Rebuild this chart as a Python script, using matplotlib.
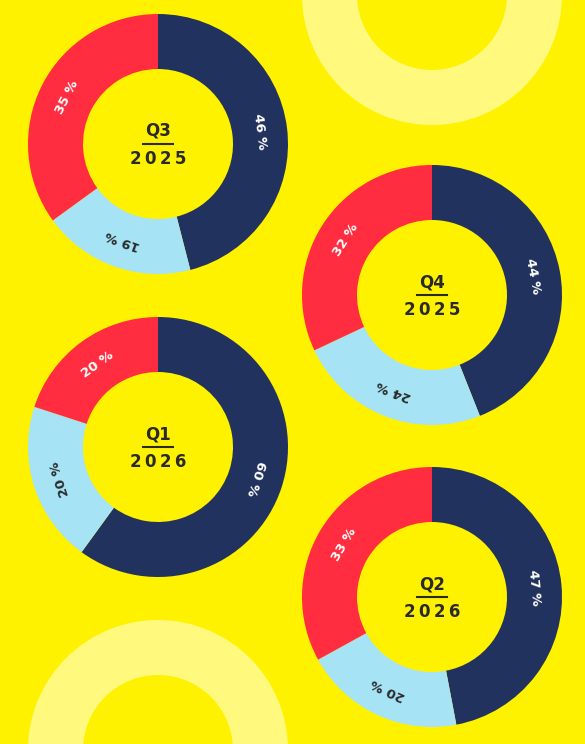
import matplotlib
matplotlib.use("Agg")
import matplotlib.pyplot as plt
from matplotlib.patches import Circle

W, H = 585, 744
BG = "#FFF200"
COLORS = ["#22325E", "#A5E3F5", "#FF2D3F"]
TEXT_COLORS = ["white", "#2A2A2A", "white"]

quarters = ["Q3", "Q4", "Q1", "Q2"]
years = ["2025", "2025", "2026", "2026"]
navy_vals = [46, 44, 60, 47]
blue_vals = [19, 24, 20, 20]
red_vals = [35, 32, 20, 33]
centers = [(158, 144), (432, 295), (158, 447), (432, 597)]

R_OUT, WIDTH = 130, 55

fig = plt.figure(figsize=(W / 100, H / 100), dpi=100, facecolor=BG)
ax = fig.add_axes([0, 0, 1, 1])
ax.set_facecolor(BG)
ax.set_xlim(0, W)
ax.set_ylim(0, H)
ax.set_aspect("equal")
ax.axis("off")

# decorative pale rings
for cx, cy in [(432, -5), (158, 750)]:
    ax.add_patch(Circle((cx, H - cy), 102, fill=False, lw=0, ec="none"))
    ring = plt.Circle((cx, H - cy), 102.5, fill=False, ec="#FFF97E", lw=55 * 0.72)
    ax.add_patch(ring)

for q, yr, a, b, c, (cx, cy) in zip(quarters, years, navy_vals, blue_vals, red_vals, centers):
    vals = [a, b, c]
    center = (cx, H - cy)
    ax.pie(vals, colors=COLORS, startangle=90, counterclock=False,
           center=center, radius=R_OUT, frame=True,
           wedgeprops=dict(width=WIDTH, linewidth=0))
    # labels along the ring
    total = sum(vals)
    start = 90.0
    rmid = R_OUT - WIDTH / 2
    import math
    for v, tc in zip(vals, TEXT_COLORS):
        mid = start - 360 * v / total / 2
        start -= 360 * v / total
        t = math.radians(mid)
        ax.text(center[0] + rmid * math.cos(t), center[1] + rmid * math.sin(t),
                f"{v} %", rotation=mid - 90, color=tc, fontsize=9.5,
                fontweight="bold", ha="center", va="center",
                rotation_mode="anchor")
    ax.text(center[0], center[1] + 13, q, ha="center", va="center",
            fontsize=12, fontweight="bold", color="#2A2A2A")
    ax.plot([center[0] - 15, center[0] + 15], [center[1], center[1]],
            color="#2A2A2A", lw=1.5)
    ax.text(center[0], center[1] - 15, " ".join(yr).replace(" ", "\u2009"),
            ha="center", va="center", fontsize=12, fontweight="bold",
            color="#2A2A2A")

ax.set_xlim(0, W)
ax.set_ylim(0, H)
fig.savefig("out.png", dpi=100, facecolor=BG)
